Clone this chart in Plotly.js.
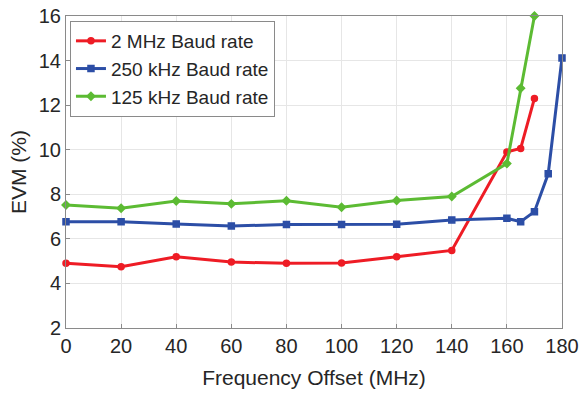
<!DOCTYPE html>
<html><head><meta charset="utf-8">
<script src="https://cdn.plot.ly/plotly-3.0.1.min.js"></script>
<style>html,body{margin:0;padding:0;background:#fff}#c{width:582px;height:394px}</style>
</head><body><div id="c"></div>
<script>
var xRed = [0,20,40,60,80,100,120,140,160,165,170];
var yRed = [4.90,4.75,5.20,4.96,4.90,4.92,5.20,5.48,9.90,10.06,12.30];
var xBlue = [0,20,40,60,80,100,120,140,160,165,170,175,180];
var yBlue = [6.77,6.77,6.67,6.58,6.64,6.64,6.66,6.85,6.92,6.77,7.22,8.92,14.12];
var xGreen = [0,20,40,60,80,100,120,140,160,165,170];
var yGreen = [7.52,7.37,7.70,7.57,7.71,7.42,7.72,7.90,9.38,12.76,16.0];
var names = ["2 MHz Baud rate","250 kHz Baud rate","125 kHz Baud rate"];
var xTicks = [0,20,40,60,80,100,120,140,160,180];
var yTicks = [2,4,6,8,10,12,14,16];

function tr(x,y,name,color,sym){
  return {x:x,y:y,name:name,type:'scatter',mode:'lines+markers',cliponaxis:false,
    line:{color:color,width:3},
    marker:{color:color,size:6,symbol:sym,line:{color:color,width:1.5}}};
}
var data = [
  tr(xRed,yRed,names[0],'#ee1c25','circle'),
  tr(xBlue,yBlue,names[1],'#2c4ea6','square'),
  tr(xGreen,yGreen,names[2],'#5cbb33','diamond')
];
var ax = {showline:true,mirror:true,linecolor:'#8a8a8a',linewidth:1,
  ticks:'inside',ticklen:4,tickcolor:'#8a8a8a',showgrid:true,gridcolor:'#e6e6e6',
  zeroline:false,tickfont:{size:20,color:'#262626'}};
var layout = {
  width:582,height:394,
  margin:{l:66,r:20,t:16,b:66},
  paper_bgcolor:'#fff',plot_bgcolor:'#fff',
  font:{family:'Liberation Sans, Arial, sans-serif',color:'#262626'},
  xaxis:Object.assign({},ax,{range:[0,180],tickvals:xTicks,
    title:{text:'Frequency Offset (MHz)',font:{size:21},standoff:14}}),
  yaxis:Object.assign({},ax,{range:[2,16],tickvals:yTicks,
    title:{text:'EVM (%)',font:{size:21},standoff:6}}),
  legend:{x:0.008,y:0.984,xanchor:'left',yanchor:'top',bgcolor:'#fff',
    bordercolor:'#8a8a8a',borderwidth:1,font:{size:19,color:'#262626'},
    tracegroupgap:0,itemwidth:30},
  showlegend:true
};
Plotly.newPlot('c',data,layout,{displayModeBar:false,staticPlot:true});
</script></body></html>
